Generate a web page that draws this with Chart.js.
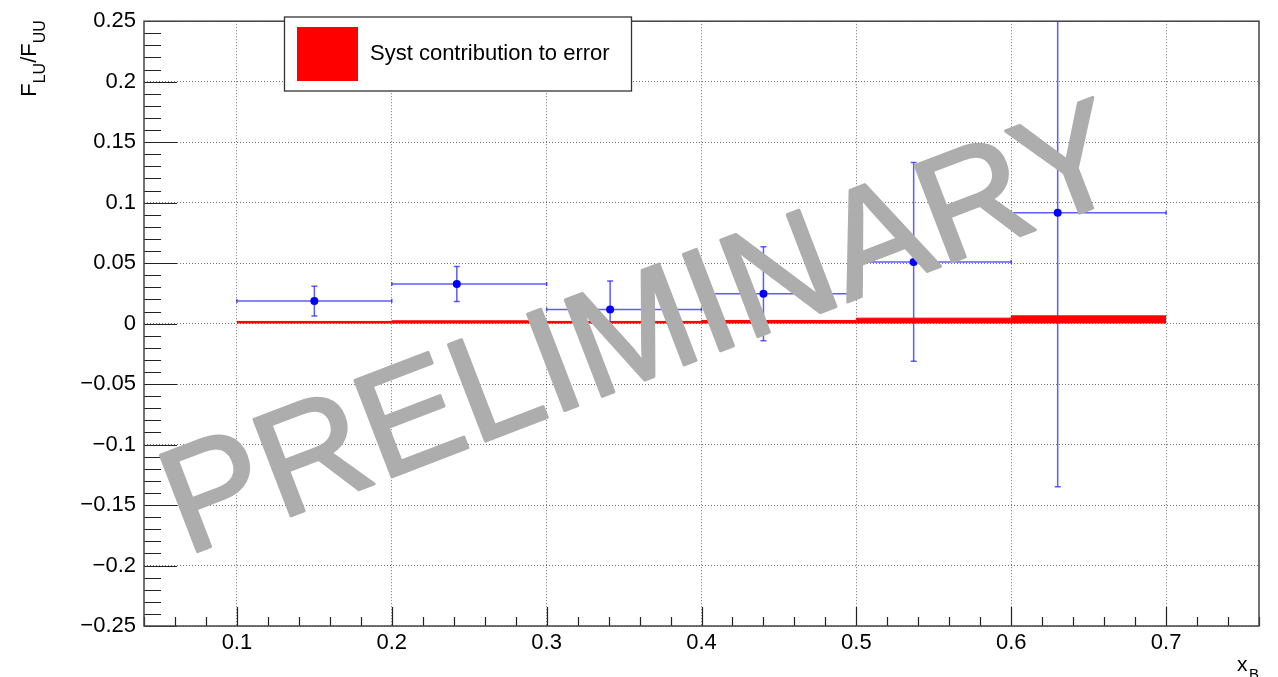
<!DOCTYPE html>
<html>
<head>
<meta charset="utf-8">
<script src="https://cdn.jsdelivr.net/npm/chart.js@4.4.1/dist/chart.umd.min.js"></script>
<style>
  html, body { margin: 0; padding: 0; background: #fff; overflow: hidden; }
  canvas { display: block; }
</style>
</head>
<body>
<canvas id="c" width="1278" height="677"></canvas>
<script>
// x_B bins and the measured F_LU/F_UU ratio with statistical and systematic errors
const binLow  = [0.1, 0.2, 0.3, 0.4, 0.5, 0.6];
const binHigh = [0.2, 0.3, 0.4, 0.5, 0.6, 0.7];
const xMean   = [0.150, 0.242, 0.341, 0.440, 0.537, 0.630];
const ratio   = [0.0186, 0.0327, 0.0117, 0.0247, 0.0510, 0.0917];
const statErr = [0.0123, 0.0145, 0.0235, 0.0389, 0.0821, 0.2265];
const systErr = [0.0018, 0.0023, 0.0018, 0.0026, 0.0045, 0.0064];

// axis ticks
const xTicks = [0.1, 0.2, 0.3, 0.4, 0.5, 0.6, 0.7];
const xTickLabels = ['0.1', '0.2', '0.3', '0.4', '0.5', '0.6', '0.7'];
const yTicks = [-0.25, -0.2, -0.15, -0.1, -0.05, 0, 0.05, 0.1, 0.15, 0.2, 0.25];
const yTickLabels = ['\u22120.25', '\u22120.2', '\u22120.15', '\u22120.1', '\u22120.05', '0',
                     '0.05', '0.1', '0.15', '0.2', '0.25'];

const legendLabel = 'Syst contribution to error';
const watermarkText = 'PRELIMINARY';

const FONT = '"Liberation Sans", Arial, Helvetica, sans-serif';
const BLUE = '#0000ff';
const BLUE_LINE = 'rgba(30,30,255,0.72)';
const RED = '#ff0000';

const datasets = [];

// systematic band: one step per bin, closed at the last upper edge
datasets.push({
  type: 'line',
  label: legendLabel,
  data: binLow.map((x, i) => ({ x: x, y: systErr[i] }))
    .concat([{ x: binHigh[binHigh.length - 1], y: systErr[systErr.length - 1] }]),
  stepped: 'before',
  fill: 'origin',
  backgroundColor: RED,
  borderColor: RED,
  borderWidth: 1,
  pointRadius: 0,
  order: 0
});

// horizontal (bin width) and vertical (stat) error bars
xMean.forEach((x, i) => {
  datasets.push({
    type: 'line',
    data: [{ x: binLow[i], y: ratio[i] }, { x: binHigh[i], y: ratio[i] }],
    borderColor: BLUE_LINE, borderWidth: 1.5,
    pointStyle: 'line', pointRotation: 90, pointRadius: 2,
    pointBorderColor: BLUE_LINE, pointBorderWidth: 1.5,
    fill: false, order: 2
  });
  datasets.push({
    type: 'line',
    data: [{ x: x, y: ratio[i] - statErr[i] }, { x: x, y: ratio[i] + statErr[i] }],
    borderColor: BLUE_LINE, borderWidth: 1.5,
    pointStyle: 'line', pointRotation: 0, pointRadius: 3,
    pointBorderColor: BLUE_LINE, pointBorderWidth: 1.5,
    fill: false, order: 2
  });
});

// measured points
datasets.push({
  type: 'scatter',
  data: xMean.map((x, i) => ({ x: x, y: ratio[i] })),
  pointRadius: 4,
  pointBackgroundColor: BLUE,
  pointBorderColor: BLUE,
  pointBorderWidth: 0,
  order: 1
});

// ROOT-style frame, inner tick marks, legend, titles and watermark
const decorations = {
  id: 'decorations',
  afterDatasetsDraw(chart) {
    const ctx = chart.ctx;
    const a = chart.chartArea;
    const xs = chart.scales.x, ys = chart.scales.y;
    ctx.save();

    // tick marks pointing into the frame
    ctx.strokeStyle = '#222';
    ctx.lineWidth = 1.2;
    ctx.beginPath();
    for (let k = -25; k <= 25; k++) {
      const py = Math.round(ys.getPixelForValue(k / 100)) + 0.5;
      const len = (k % 5 === 0) ? 33 : 17;
      ctx.moveTo(a.left, py); ctx.lineTo(a.left + len, py);
    }
    for (let k = 2; k <= 38; k++) {
      const px = Math.round(xs.getPixelForValue(k / 50)) + 0.5;
      const len = (k % 5 === 0) ? 19 : 9;
      ctx.moveTo(px, a.bottom); ctx.lineTo(px, a.bottom - len);
    }
    ctx.stroke();

    // frame
    ctx.strokeStyle = '#444';
    ctx.lineWidth = 1.5;
    ctx.strokeRect(a.left, a.top, a.right - a.left, a.bottom - a.top);

    // legend
    ctx.fillStyle = '#fff';
    ctx.fillRect(284, 17, 348, 74);
    ctx.strokeStyle = '#333';
    ctx.lineWidth = 1.3;
    ctx.strokeRect(284.5, 17, 347, 74);
    ctx.fillStyle = RED;
    ctx.fillRect(297, 27, 61, 54);
    ctx.fillStyle = '#000';
    ctx.font = '22px ' + FONT;
    ctx.textBaseline = 'middle';
    ctx.textAlign = 'left';
    ctx.fillText(legendLabel, 370, 54);

    // x axis title x_B
    ctx.textBaseline = 'alphabetic';
    ctx.font = '21px ' + FONT;
    ctx.fillText('x', 1237, 671);
    ctx.font = '15px ' + FONT;
    ctx.fillText('B', 1249, 679);

    // y axis title F_LU/F_UU, aligned to the top of the axis
    const parts = [['F', 0], ['LU', 1], ['/', 0], ['F', 0], ['UU', 1]];
    const mainFont = '22px ' + FONT, subFont = '16px ' + FONT;
    let total = 0;
    parts.forEach(p => {
      ctx.font = p[1] ? subFont : mainFont;
      total += ctx.measureText(p[0]).width;
    });
    ctx.save();
    ctx.translate(36, a.top - 1 + total);
    ctx.rotate(-Math.PI / 2);
    let off = 0;
    parts.forEach(p => {
      ctx.font = p[1] ? subFont : mainFont;
      ctx.fillText(p[0], off, p[1] ? 9 : 0);
      off += ctx.measureText(p[0]).width;
    });
    ctx.restore();

    // watermark
    ctx.save();
    ctx.fillStyle = '#adadad';
    ctx.strokeStyle = '#adadad';
    ctx.lineWidth = 3;
    ctx.lineJoin = 'round';
    ctx.font = '150px ' + FONT;
    ctx.translate(186, 556);
    ctx.rotate(-21 * Math.PI / 180);
    ctx.fillText(watermarkText, 0, 0);
    ctx.strokeText(watermarkText, 0, 0);
    ctx.restore();

    ctx.restore();
  }
};

new Chart(document.getElementById('c'), {
  type: 'scatter',
  data: { datasets: datasets },
  options: {
    responsive: false,
    animation: false,
    events: [],
    layout: { padding: { top: 15, right: 19, left: 0, bottom: 0 } },
    plugins: { legend: { display: false }, tooltip: { enabled: false } },
    scales: {
      x: {
        type: 'linear', position: 'bottom', min: 0.04, max: 0.76,
        afterBuildTicks: s => { s.ticks = xTicks.map(v => ({ value: v })); },
        afterFit: s => { s.height = 51; },
        grid: { color: 'rgba(0,0,0,0.55)', lineWidth: 1, drawTicks: false },
        border: { display: false, dash: [1, 2] },
        ticks: {
          autoSkip: false, maxRotation: 0, padding: 4, color: '#000',
          font: { family: FONT, size: 22 },
          callback: (v, i) => xTickLabels[i]
        }
      },
      y: {
        type: 'linear', min: -0.25, max: 0.25,
        afterBuildTicks: s => { s.ticks = yTicks.map(v => ({ value: v })); },
        afterFit: s => { s.width = 144; },
        grid: { color: 'rgba(0,0,0,0.55)', lineWidth: 1, drawTicks: false },
        border: { display: false, dash: [1, 2] },
        ticks: {
          autoSkip: false, padding: 8, color: '#000',
          font: { family: FONT, size: 22 },
          callback: (v, i) => yTickLabels[i]
        }
      }
    }
  },
  plugins: [decorations]
});
</script>
</body>
</html>
